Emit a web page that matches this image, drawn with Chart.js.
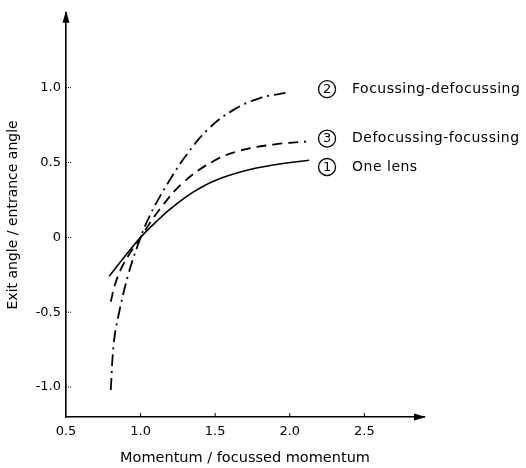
<!DOCTYPE html>
<html>
<head>
<meta charset="utf-8">
<script src="https://cdn.jsdelivr.net/npm/chart.js@4/dist/chart.umd.min.js"></script>
<style>
  html, body { margin: 0; padding: 0; background: #fff; }
  #wrap { width: 526px; height: 468px; }
</style>
</head>
<body>
<div id="wrap"><canvas id="myChart"></canvas></div>
<script>
// values
const oneLensX = [0.79, 0.9, 1.0, 1.1, 1.2, 1.35, 1.5, 1.7, 1.9, 2.13];
const oneLensY = [-0.26, -0.12, 0, 0.1, 0.19, 0.3, 0.38, 0.445, 0.485, 0.515];

const focDefocX = [0.80, 0.82, 0.85, 0.92, 1.0, 1.05, 1.1, 1.2, 1.3, 1.45, 1.62, 1.8, 2.0];
const focDefocY = [-1.02, -0.71, -0.53, -0.24, 0, 0.12, 0.22, 0.39, 0.54, 0.72, 0.85, 0.93, 0.97];

const defocFocX = [0.8, 0.83, 0.89, 1.0, 1.13, 1.29, 1.49, 1.67, 1.89, 2.11];
const defocFocY = [-0.43, -0.31, -0.17, 0, 0.19, 0.37, 0.51, 0.58, 0.62, 0.64];

const xTicks = [0.5, 1.0, 1.5, 2.0, 2.5];
const yTicks = [-1.0, -0.5, 0, 0.5, 1.0];

// curve labels: number, text, y value for the label row
const curveNums = ["2", "3", "1"];
const curveNames = ["Focussing-defocussing", "Defocussing-focussing", "One lens"];
const curveLabelY = [0.99, 0.66, 0.47];

const pts = (xs, ys) => xs.map((x, i) => ({ x: x, y: ys[i] }));

const font = "'DejaVu Sans', sans-serif";

const decor = {
	id: "decor",
	afterDraw(chart) {
		const { ctx, chartArea: a, scales } = chart;
		ctx.save();
		ctx.fillStyle = "#000";
		ctx.strokeStyle = "#000";
		// arrow heads
		ctx.beginPath();
		ctx.moveTo(a.left, a.top - 2);
		ctx.lineTo(a.left - 3.5, a.top + 10);
		ctx.lineTo(a.left + 3.5, a.top + 10);
		ctx.closePath();
		ctx.fill();
		ctx.beginPath();
		ctx.moveTo(a.right + 2, a.bottom);
		ctx.lineTo(a.right - 10, a.bottom - 3.5);
		ctx.lineTo(a.right - 10, a.bottom + 3.5);
		ctx.closePath();
		ctx.fill();
		// small inner tick marks
		ctx.lineWidth = 1;
		ctx.setLineDash([1, 1]);
		yTicks.forEach(v => {
			const y = scales.y.getPixelForValue(v);
			ctx.beginPath();
			ctx.moveTo(a.left, y);
			ctx.lineTo(a.left + 6, y);
			ctx.stroke();
		});
		ctx.setLineDash([]);
		xTicks.slice(1).forEach(v => {
			const x = scales.x.getPixelForValue(v);
			ctx.beginPath();
			ctx.moveTo(x, a.bottom);
			ctx.lineTo(x, a.bottom - 4);
			ctx.stroke();
		});
		// curve labels
		const cx = scales.x.getPixelForValue(2.25);
		ctx.textBaseline = "middle";
		curveNums.forEach((n, i) => {
			const y = scales.y.getPixelForValue(curveLabelY[i]);
			ctx.lineWidth = 1.3;
			ctx.beginPath();
			ctx.arc(cx, y, 8.5, 0, Math.PI * 2);
			ctx.stroke();
			ctx.textAlign = "center";
			ctx.letterSpacing = "0px";
			ctx.font = "13px " + font;
			ctx.fillText(n, cx, y + 0.5);
			ctx.textAlign = "left";
			ctx.letterSpacing = "0.5px";
			ctx.font = "14px " + font;
			ctx.fillText(curveNames[i], cx + 25, y);
		});
		ctx.restore();
	},
};

const ctx = document.getElementById("myChart");
// eslint-disable-next-line no-unused-vars
const myChart = new Chart(ctx, {
	type: "scatter",
	data: {
		datasets: [
			{
				data: pts(oneLensX, oneLensY),
				showLine: true,
				borderColor: "#000",
				borderWidth: 1.6,
				pointRadius: 0,
				tension: 0.4,
			},
			{
				data: pts(focDefocX, focDefocY),
				showLine: true,
				borderColor: "#000",
				borderWidth: 1.8,
				borderDash: [12, 5, 2, 5],
				pointRadius: 0,
				tension: 0.4,
			},
			{
				data: pts(defocFocX, defocFocY),
				showLine: true,
				borderColor: "#000",
				borderWidth: 1.8,
				borderDash: [10, 6],
				pointRadius: 0,
				tension: 0.4,
			},
		],
	},
	options: {
		responsive: true,
		maintainAspectRatio: false,
		animation: false,
		layout: { padding: { top: 9, right: 102, left: 0, bottom: 0 } },
		plugins: {
			legend: { display: false },
			tooltip: { enabled: false },
		},
		scales: {
			x: {
				type: "linear",
				min: 0.5,
				max: 2.9,
				afterFit: s => { s.height = 51; },
				afterBuildTicks: s => { s.ticks = xTicks.map(v => ({ value: v })); },
				grid: { drawOnChartArea: false, drawTicks: false },
				border: { display: true, color: "#000", width: 1.6 },
				ticks: {
					color: "#000",
					padding: 7,
					font: { family: font, size: 13 },
					callback: v => v.toFixed(1),
				},
				title: {
					display: true,
					text: "Momentum / focussed momentum",
					color: "#000",
					font: { family: font, size: 14.5 },
					padding: { top: 1, bottom: 1 },
				},
			},
			y: {
				type: "linear",
				min: -1.2,
				max: 1.5,
				afterFit: s => { s.width = 66; },
				afterBuildTicks: s => { s.ticks = yTicks.map(v => ({ value: v })); },
				grid: { drawOnChartArea: false, drawTicks: false },
				border: { display: true, color: "#000", width: 1.6 },
				ticks: {
					color: "#000",
					padding: 5,
					font: { family: font, size: 13 },
					callback: v => (v === 0 ? "0" : v.toFixed(1)),
				},
				title: {
					display: true,
					text: "Exit angle / entrance angle",
					color: "#000",
					font: { family: font, size: 14 },
					padding: { top: 5, bottom: 5 },
				},
			},
		},
	},
	plugins: [decor],
});
</script>
</body>
</html>
